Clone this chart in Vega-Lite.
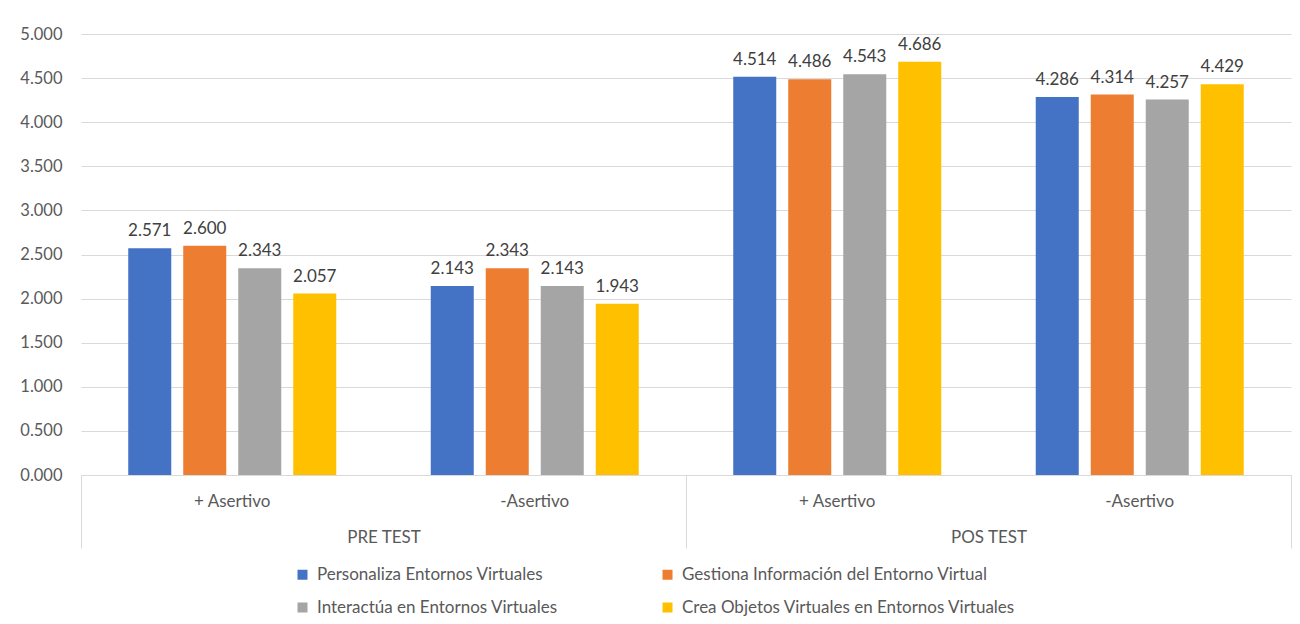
{
  "$schema": "https://vega.github.io/schema/vega-lite/v6.json",
  "autosize": {"type": "none"},
  "width": 1210,
  "height": 441,
  "padding": {"left": 81, "top": 34, "right": 9, "bottom": 149},
  "background": "white",
  "config": {
    "font": "Lato",
    "view": {"stroke": null},
    "axis": {"labelFont": "Lato", "labelFontSize": 17, "labelColor": "#595959"},
    "legend": {"labelFont": "Lato", "labelFontSize": 17, "labelColor": "#595959"}
  },
  "data": {
    "values": [
      {"test": "PRE TEST", "sub": "PRE|+ Asertivo", "series": "Personaliza Entornos Virtuales", "value": 2.571},
      {"test": "PRE TEST", "sub": "PRE|+ Asertivo", "series": "Gestiona Información del Entorno Virtual", "value": 2.600},
      {"test": "PRE TEST", "sub": "PRE|+ Asertivo", "series": "Interactúa en Entornos Virtuales", "value": 2.343},
      {"test": "PRE TEST", "sub": "PRE|+ Asertivo", "series": "Crea Objetos Virtuales en Entornos Virtuales", "value": 2.057},
      {"test": "PRE TEST", "sub": "PRE|-Asertivo", "series": "Personaliza Entornos Virtuales", "value": 2.143},
      {"test": "PRE TEST", "sub": "PRE|-Asertivo", "series": "Gestiona Información del Entorno Virtual", "value": 2.343},
      {"test": "PRE TEST", "sub": "PRE|-Asertivo", "series": "Interactúa en Entornos Virtuales", "value": 2.143},
      {"test": "PRE TEST", "sub": "PRE|-Asertivo", "series": "Crea Objetos Virtuales en Entornos Virtuales", "value": 1.943},
      {"test": "POS TEST", "sub": "POS|+ Asertivo", "series": "Personaliza Entornos Virtuales", "value": 4.514},
      {"test": "POS TEST", "sub": "POS|+ Asertivo", "series": "Gestiona Información del Entorno Virtual", "value": 4.486},
      {"test": "POS TEST", "sub": "POS|+ Asertivo", "series": "Interactúa en Entornos Virtuales", "value": 4.543},
      {"test": "POS TEST", "sub": "POS|+ Asertivo", "series": "Crea Objetos Virtuales en Entornos Virtuales", "value": 4.686},
      {"test": "POS TEST", "sub": "POS|-Asertivo", "series": "Personaliza Entornos Virtuales", "value": 4.286},
      {"test": "POS TEST", "sub": "POS|-Asertivo", "series": "Gestiona Información del Entorno Virtual", "value": 4.314},
      {"test": "POS TEST", "sub": "POS|-Asertivo", "series": "Interactúa en Entornos Virtuales", "value": 4.257},
      {"test": "POS TEST", "sub": "POS|-Asertivo", "series": "Crea Objetos Virtuales en Entornos Virtuales", "value": 4.429}
    ]
  },
  "layer": [
    {
      "encoding": {
        "x": {
          "field": "sub", "type": "nominal", "sort": null,
          "scale": {"paddingInner": 0, "paddingOuter": 0},
          "axis": {
            "title": null, "orient": "bottom", "labelAngle": 0,
            "labelExpr": "split(datum.value, '|')[1]",
            "ticks": false, "domain": true, "domainColor": "#d9d9d9", "domainWidth": 1,
            "labelPadding": 18, "grid": false
          }
        },
        "xOffset": {
          "field": "series", "type": "nominal", "sort": null,
          "scale": {"paddingInner": 0.218, "paddingOuter": 0.859}
        },
        "y": {
          "field": "value", "type": "quantitative",
          "scale": {"domain": [0, 5], "nice": false, "zero": true},
          "axis": {
            "title": null, "values": [0, 0.5, 1, 1.5, 2, 2.5, 3, 3.5, 4, 4.5, 5],
            "format": ".3f", "domain": false, "ticks": false, "labelPadding": 19,
            "labelFontSize": 16.5,
            "grid": true, "gridColor": "#d9d9d9", "gridWidth": 1
          }
        }
      },
      "layer": [
        {
          "mark": {"type": "bar"},
          "encoding": {
            "color": {
              "field": "series", "type": "nominal",
              "scale": {
                "domain": ["Personaliza Entornos Virtuales", "Gestiona Información del Entorno Virtual", "Interactúa en Entornos Virtuales", "Crea Objetos Virtuales en Entornos Virtuales"],
                "range": ["#4472C4", "#ED7D31", "#A5A5A5", "#FFC000"]
              },
              "legend": {
                "title": null, "orient": "none", "legendX": 213, "legendY": 532,
                "columns": 2, "direction": "horizontal", "symbolType": "square",
                "symbolSize": 100, "symbolStrokeWidth": 0, "labelOffset": 6,
                "columnPadding": 101, "rowPadding": 15, "labelLimit": 400
              }
            }
          }
        },
        {
          "mark": {"type": "text", "baseline": "alphabetic", "dy": -12, "fontSize": 17, "color": "#404040", "font": "Lato"},
          "encoding": {
            "text": {"field": "value", "type": "quantitative", "format": ".3f"}
          }
        }
      ]
    },
    {
      "mark": {"type": "text", "opacity": 0},
      "encoding": {
        "x": {
          "field": "test", "type": "nominal", "sort": null,
          "scale": {"paddingInner": 0, "paddingOuter": 0},
          "axis": {
            "title": null, "orient": "bottom", "labelAngle": 0,
            "domain": false, "ticks": true, "tickBand": "extent",
            "tickSize": 73, "tickColor": "#d9d9d9", "tickWidth": 1,
            "labelPadding": -19, "grid": false
          }
        },
        "text": {"value": ""}
      }
    }
  ],
  "resolve": {"scale": {"x": "independent"}, "axis": {"x": "independent"}}
}
